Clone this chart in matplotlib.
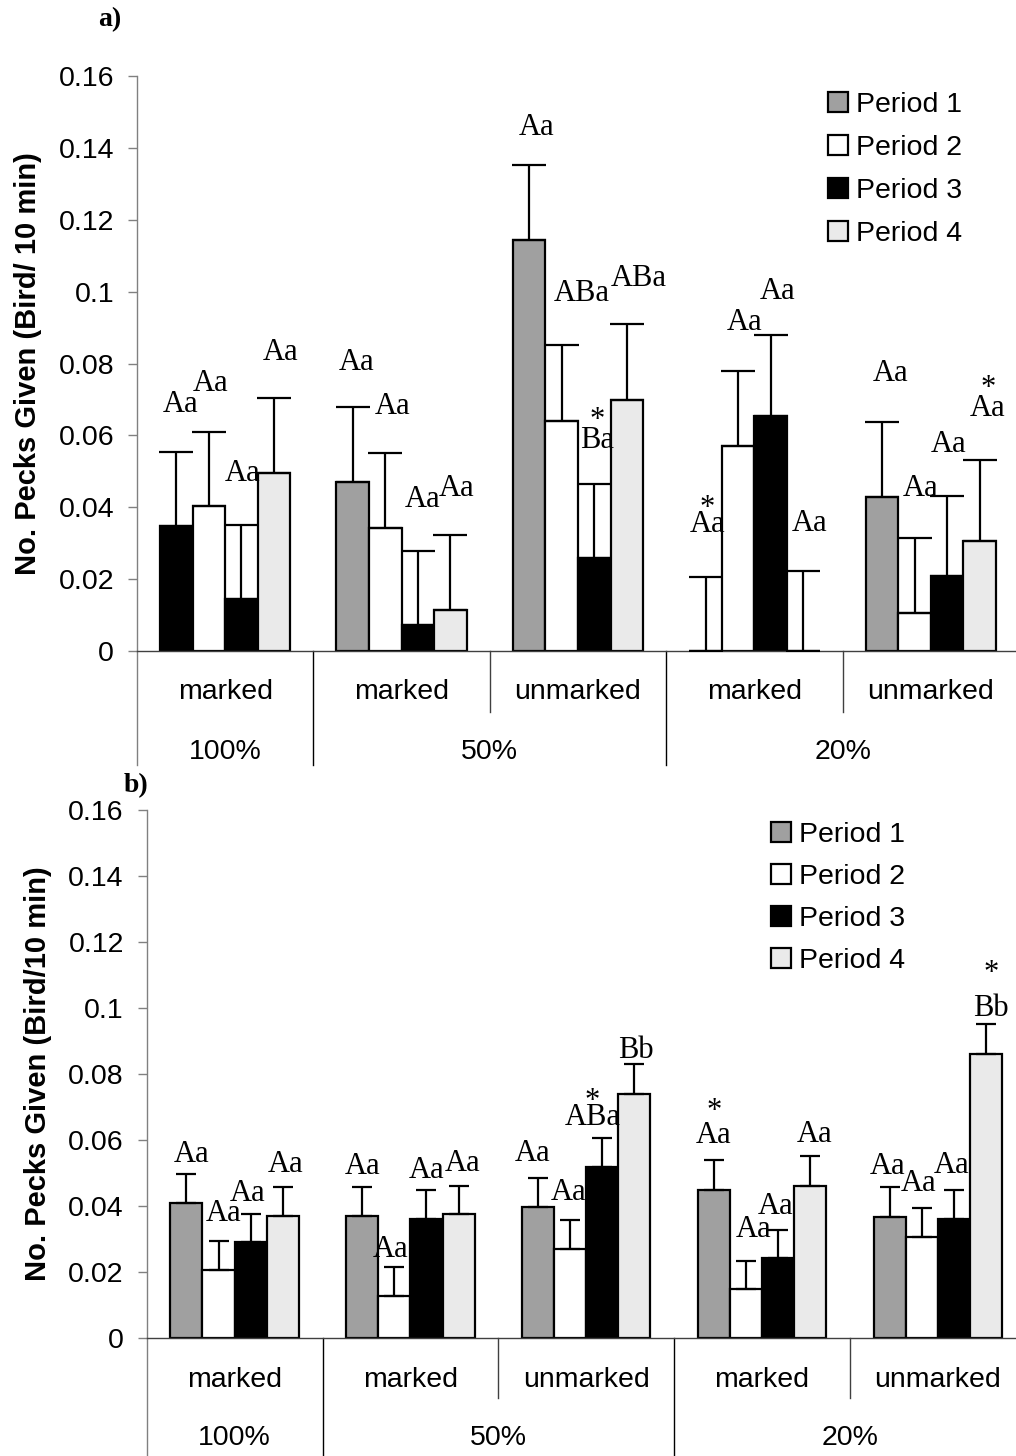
import numpy as np
import matplotlib
matplotlib.use('Agg')
import matplotlib.pyplot as plt
from matplotlib.patches import Patch

plt.rcParams['font.family'] = ['Liberation Sans', 'DejaVu Sans']

groups = ['marked', 'marked', 'unmarked', 'marked', 'unmarked']
levels = ['100%', '50%', '20%']
periods = ['Period 1', 'Period 2', 'Period 3', 'Period 4']
colors = ['#a0a0a0', 'white', 'black', '#eaeaea']

# panel a: means and standard errors, one list per period (5 groups each)
a_mean = [[0.0348, 0.0471, 0.1144, 0.0, 0.0428],
          [0.0403, 0.0342, 0.0641, 0.0570, 0.0105],
          [0.0144, 0.0072, 0.0258, 0.0654, 0.0209],
          [0.0494, 0.0114, 0.0698, 0.0, 0.0306]]
a_se = [[0.0207, 0.0209, 0.0208, 0.0207, 0.0208],
        [0.0207, 0.0208, 0.0210, 0.0210, 0.0209],
        [0.0206, 0.0207, 0.0206, 0.0225, 0.0223],
        [0.0209, 0.0209, 0.0212, 0.0223, 0.0225]]
a_letters = [['Aa', 'Aa', 'Aa', 'Aa'],
             ['Aa', 'Aa', 'Aa', 'Aa'],
             ['Aa', 'ABa', 'Ba', 'ABa'],
             ['Aa', 'Aa', 'Aa', 'Aa'],
             ['Aa', 'Aa', 'Aa', 'Aa']]
a_stars = [(2, 2), (3, 0), (4, 3)]

# panel b
b_mean = [[0.0407, 0.0369, 0.0395, 0.0448, 0.0367],
          [0.0205, 0.0126, 0.0268, 0.0146, 0.0306],
          [0.0289, 0.0360, 0.0518, 0.0240, 0.0359],
          [0.0369, 0.0374, 0.0739, 0.0461, 0.0860]]
b_se = [[0.0089, 0.0089, 0.0088, 0.0089, 0.0089],
        [0.0089, 0.0089, 0.0087, 0.0087, 0.0088],
        [0.0086, 0.0088, 0.0087, 0.0086, 0.0087],
        [0.0087, 0.0087, 0.0090, 0.0090, 0.0091]]
b_letters = [['Aa', 'Aa', 'Aa', 'Aa'],
             ['Aa', 'Aa', 'Aa', 'Aa'],
             ['Aa', 'Aa', 'ABa', 'Bb'],
             ['Aa', 'Aa', 'Aa', 'Aa'],
             ['Aa', 'Aa', 'Aa', 'Bb']]
b_stars = [(2, 2), (3, 0), (4, 3)]

# where the letters sit (data y of letter centre, x shift in px)
a_lab_y = [[0.0693, 0.0751, 0.0501, 0.0837], [0.0810, 0.0687, 0.0428, 0.0459],
           [0.1464, 0.1002, 0.0593, 0.1043], [0.0359, 0.0921, 0.1007, 0.0362],
           [0.0779, 0.0459, 0.0582, 0.0682]]
a_lab_dx = [[4, 2, 1, 6], [4, 7, 5, 6], [7, 20, 3, 12], [2, 6, 7, 6], [9, 6, 1, 8]]
a_star_dy = [26, 22, 26]
b_lab_y = [[0.0563, 0.0384, 0.0445, 0.0533], [0.0527, 0.0275, 0.0514, 0.0536],
           [0.0566, 0.0448, 0.0675, 0.0879], [0.0621, 0.0335, 0.0405, 0.0624],
           [0.0527, 0.0475, 0.0530, 0.1006]]
b_lab_dx = [[5, 5, -3, 3], [0, -4, 0, 4], [-5, -2, -10, 2], [0, 8, -2, 4], [-2, -3, -2, 5]]
b_star_dy = [22, 30, 41]

W, H = 1016, 1456
fig = plt.figure(figsize=(W / 100, H / 100), dpi=100)
FS = 20.5
SERIF = ['Liberation Serif', 'DejaVu Serif']
PT = 0.72  # points per pixel at dpi 100


def panel(ax, means, ses, width, capsize, letters, lab_y, lab_dx, stars, star_dy,
          long_frac, short_frac, cat_y, lvl_y, first_black=False):
    x0 = np.arange(5) + 0.5
    for i in range(4):
        x = x0 + (i - 1.5) * width
        bars = ax.bar(x, means[i], width, color=colors[i], edgecolor='black',
                      linewidth=1.6, zorder=2)
        if i == 0 and first_black:
            bars[0].set_facecolor('black')
        ax.errorbar(x, means[i], yerr=[np.zeros(5), ses[i]], fmt='none',
                    ecolor='black', elinewidth=1.6, capsize=capsize, capthick=1.6,
                    zorder=3)
    for g in range(5):
        for i in range(4):
            x = x0[g] + (i - 1.5) * width
            ax.annotate(letters[g][i], (x, lab_y[g][i]),
                        xytext=(lab_dx[g][i] * PT, -7.2), textcoords='offset points',
                        ha='center', va='baseline', family=SERIF, fontsize=22,
                        annotation_clip=False, zorder=4)
    for k, (g, i) in enumerate(stars):
        x = x0[g] + (i - 1.5) * width
        ax.annotate('*', (x, lab_y[g][i]),
                    xytext=(lab_dx[g][i] * PT, (star_dy[k] - 16) * PT),
                    textcoords='offset points', ha='center', va='baseline',
                    family=SERIF, fontsize=22, annotation_clip=False)

    ax.set_xlim(0, 5)
    ax.set_ylim(0, 0.16)
    ax.set_yticks(np.arange(0, 0.161, 0.02))
    ax.set_yticklabels([f'{v:g}' for v in np.round(np.arange(0, 0.161, 0.02), 2)])
    ax.set_xticks([])
    ax.tick_params(axis='y', direction='out', length=6.5, width=1, color='#808080',
                   labelsize=FS, pad=10)
    for s in ['top', 'right']:
        ax.spines[s].set_visible(False)
    ax.spines['left'].set_color('#808080')
    ax.spines['bottom'].set_color('#404040')
    ax.spines['left'].set_linewidth(1)
    ax.spines['bottom'].set_linewidth(1)

    tr = ax.get_xaxis_transform()
    ax.plot([0, 0], [0, -long_frac], transform=tr, clip_on=False, color='#808080', lw=1)
    for b in [1, 3, 5]:
        ax.plot([b, b], [0, -long_frac], transform=tr, clip_on=False, color='black', lw=1)
    for b in [2, 4]:
        ax.plot([b, b], [0, -short_frac], transform=tr, clip_on=False, color='#404040', lw=1)
    for g in range(5):
        ax.text(g + 0.5, -cat_y, groups[g], transform=tr, ha='center', va='center',
                fontsize=FS)
    for lx, lab in zip([0.5, 2.0, 4.0], levels):
        ax.text(lx, -lvl_y, lab, transform=tr, ha='center', va='center', fontsize=FS)


axA = fig.add_axes([137 / W, 1 - 651 / H, 882 / W, 575 / H])
panel(axA, a_mean, a_se, 0.1848, 12, a_letters, a_lab_y, a_lab_dx, a_stars, a_star_dy,
      0.198, 0.106, 0.0713, 0.1757, first_black=True)

axB = fig.add_axes([146.7 / W, 1 - 1337.5 / H, 879 / W, 527.5 / H])
panel(axB, b_mean, b_se, 0.1826, 7, b_letters, b_lab_y, b_lab_dx, b_stars, b_star_dy,
      0.225, 0.115, 0.0806, 0.1905)

handles = [Patch(facecolor=c, edgecolor='black', linewidth=1.6) for c in colors]
for lx, ly, sp in [(828, 92, 0.6), (771, 822, 0.56)]:
    fig.legend(handles, periods, loc='upper left', bbox_to_anchor=(lx / W, 1 - ly / H),
               bbox_transform=fig.transFigure, frameon=False, fontsize=FS,
               handlelength=0.7, handleheight=0.7, handletextpad=0.3,
               labelspacing=sp, borderpad=0, borderaxespad=0)

fig.text(28 / W, 1 - 364 / H, 'No. Pecks Given (Bird/ 10 min)', rotation=90,
         ha='center', va='center', fontsize=21, fontweight='bold')
fig.text(38 / W, 1 - 1074 / H, 'No. Pecks Given (Bird/10 min)', rotation=90,
         ha='center', va='center', fontsize=21, fontweight='bold')
fig.text(110 / W, 1 - 20 / H, 'a)', family=SERIF, fontweight='bold', fontsize=20,
         ha='center', va='center')
fig.text(136 / W, 1 - 786 / H, 'b)', family=SERIF, fontweight='bold', fontsize=20,
         ha='center', va='center')

fig.savefig('out.png', dpi=100)
